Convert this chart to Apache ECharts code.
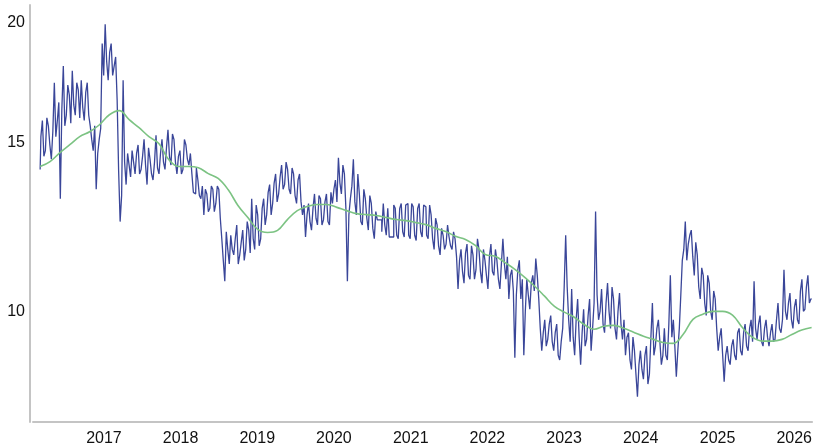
<!DOCTYPE html>
<html><head><meta charset="utf-8">
<script src="https://cdn.jsdelivr.net/npm/echarts@6/dist/echarts.min.js"></script>
<style>html,body{margin:0;padding:0;background:#fff}#c{width:815px;height:447px}</style>
</head><body><div id="c"></div>
<script>
const seriesStart = '2016-03-03';
const seriesEnd = '2026-03-25';
const axisStart = '2016-01-29';
const axisEnd = '2026-03-27';
const yearTicks = ['2017-01-01','2018-01-01','2019-01-01','2020-01-01','2021-01-01','2022-01-01','2023-01-01','2024-01-01','2025-01-01','2026-01-01'];
const yTicks = [10, 15, 20];
const yMin = 7.67, yMax = 20.84;

const price = [
14.05,15.2,15.8,14.5,14.7,15.9,15.6,14.9,14.4,15.4,17.3,15.2,15.8,16.5,13.1,16.2,18.0,15.6,16.0,17.2,
16.8,15.7,17.8,16.4,16.0,17.3,17.0,15.9,17.4,16.3,15.8,16.9,17.3,16.0,15.6,15.1,14.7,15.6,13.4,14.6,
15.1,15.5,19.0,17.6,19.9,18.2,17.4,18.6,19.0,17.6,18.0,18.4,16.6,14.0,12.4,13.2,17.4,14.3,13.55,14.6,
14.2,13.8,14.7,14.3,13.9,14.6,14.9,13.9,14.05,14.5,15.1,14.2,13.55,14.8,14.4,13.9,13.7,14.3,15.25,14.1,
13.9,14.6,15.1,14.3,14.05,14.8,15.45,14.5,14.2,15.3,15.1,14.3,13.9,14.5,14.7,13.9,14.05,15.1,14.9,14.4,
14.2,14.6,13.9,13.3,13.25,14.1,13.7,13.2,13.1,13.5,12.6,13.4,13.25,12.7,12.8,13.5,13.4,12.7,12.95,13.5,
13.4,12.5,11.9,11.3,10.75,12.1,11.6,11.2,12.0,11.6,11.45,11.9,12.3,11.2,11.45,11.8,12.15,11.3,11.6,12.4,
12.15,11.5,13.1,11.9,11.6,12.9,12.6,11.7,11.9,12.8,13.1,12.3,12.6,13.3,13.55,12.6,12.95,13.6,13.9,13.0,
13.25,13.8,14.2,13.4,13.55,14.3,14.05,13.4,13.25,14.1,13.9,13.2,12.95,13.7,13.9,13.0,12.6,12.9,11.95,12.6,
12.95,12.4,12.15,12.8,13.25,12.5,12.3,13.2,13.1,12.3,12.45,13.0,13.25,12.4,12.3,13.3,12.95,13.4,13.7,13.0,
14.45,13.6,13.25,14.2,13.9,12.8,10.75,12.6,13.1,13.5,14.4,13.0,12.6,13.9,13.25,12.4,12.3,13.4,13.1,12.5,
12.15,13.2,12.95,12.2,11.9,12.7,12.45,12.45,12.45,12.1,12.95,12.3,12.0,12.8,11.95,11.95,11.95,12.9,12.8,12.0,
11.9,12.8,12.95,12.1,11.95,12.9,12.95,12.0,11.9,12.95,12.85,12.0,11.85,12.8,12.95,12.1,11.95,12.9,12.85,12.0,
11.9,12.9,12.6,11.9,11.6,12.5,12.3,11.7,11.45,12.2,12.0,11.6,11.75,12.3,11.95,11.7,11.6,12.1,11.9,11.4,
10.55,11.3,11.6,11.0,10.7,11.5,11.75,10.9,10.8,11.7,11.45,10.8,11.05,11.9,11.6,11.0,10.7,11.6,11.3,10.9,
10.55,11.4,11.75,11.0,10.9,11.6,11.3,10.8,10.55,11.2,11.9,11.2,10.8,11.4,10.3,10.9,11.05,10.5,8.95,10.4,
11.05,11.3,10.3,10.8,9.0,10.0,10.8,10.4,10.05,10.7,10.9,10.5,11.35,10.9,10.3,9.6,9.1,9.5,9.8,9.2,
9.35,9.7,9.9,9.3,9.1,9.5,9.7,9.0,8.9,9.3,9.6,10.6,12.0,10.6,9.8,9.3,10.55,9.4,9.0,9.8,
10.3,9.4,8.8,9.5,10.05,9.2,9.35,9.9,10.3,9.1,9.6,10.2,12.7,10.4,9.8,10.0,10.55,9.7,9.5,10.2,
10.7,10.0,9.6,10.6,10.3,9.6,9.35,10.0,10.45,9.7,9.35,9.8,9.0,9.4,9.5,8.9,8.7,9.4,9.1,8.6,
8.15,8.8,9.1,8.7,8.5,9.0,9.2,8.4,8.6,9.4,10.2,9.0,9.2,9.6,9.8,9.3,8.8,9.0,9.6,9.0,
8.9,9.7,10.9,9.4,9.8,9.2,8.55,9.1,9.6,10.4,11.3,11.6,12.4,11.3,11.75,12.0,12.15,11.4,10.9,11.8,
11.45,10.6,10.3,11.1,10.9,10.2,9.9,10.9,10.7,10.0,9.8,10.5,10.3,9.6,9.1,9.4,9.6,9.0,8.45,9.0,
9.2,8.9,8.8,9.2,9.35,9.0,8.9,9.5,9.6,9.1,9.0,9.5,9.7,9.2,9.1,9.6,9.8,9.3,10.75,9.6,
9.35,9.7,9.9,9.3,9.2,9.6,9.8,9.4,9.2,9.5,9.7,9.3,9.35,9.8,10.2,9.6,9.5,9.8,11.05,10.0,
9.8,10.2,10.45,9.8,9.6,10.1,10.3,9.8,9.7,10.5,10.8,10.0,10.05,10.6,10.9,10.2,10.3
];

const trend = [
14.15,14.32,14.63,14.91,15.20,15.38,15.64,16.02,16.18,15.83,
15.53,15.20,14.95,14.39,14.15,14.15,14.11,13.91,13.75,13.39,
12.89,12.52,12.17,12.08,12.14,12.46,12.73,12.86,12.92,12.92,
12.83,12.73,12.64,12.61,12.58,12.52,12.46,12.43,12.37,12.31,
12.20,12.11,11.97,11.88,11.71,11.46,11.41,11.24,11.06,10.85,
10.62,10.37,10.12,9.98,9.86,9.69,9.58,9.65,9.67,9.60,
9.51,9.42,9.35,9.28,9.26,9.46,9.81,9.93,10.0,10.0,
9.91,9.62,9.40,9.31,9.31,9.35,9.46,9.56,9.62
];

function spreadDates(n) {
  const a = +new Date(seriesStart), b = +new Date(seriesEnd);
  return Array.from({length: n}, (_, i) => a + (b - a) * i / (n - 1));
}
const priceDates = spreadDates(price.length);
const trendDates = spreadDates(trend.length);

const chart = echarts.init(document.getElementById('c'), null, {renderer: 'canvas'});
chart.setOption({
  animation: false,
  backgroundColor: '#ffffff',
  grid: {left: 33, right: 0, top: 5, bottom: 24, containLabel: false},
  xAxis: {
    type: 'value',
    min: +new Date(axisStart),
    max: +new Date(axisEnd),
    axisLine: {show: true, lineStyle: {color: '#c4c4c4', width: 2}},
    axisTick: {show: false},
    splitLine: {show: false},
    axisLabel: {
      customValues: yearTicks.map(d => +new Date(d)),
      formatter: v => String(new Date(v).getUTCFullYear()),
      color: '#111111', fontSize: 16, fontFamily: 'Liberation Sans, Arial, sans-serif',
      margin: 9, hideOverlap: false
    }
  },
  yAxis: {
    type: 'log',
    min: yMin, max: yMax,
    offset: 3,
    axisLine: {show: true, lineStyle: {color: '#c4c4c4', width: 2}},
    axisTick: {show: false},
    splitLine: {show: false},
    axisLabel: {
      customValues: yTicks,
      formatter: v => String(Math.round(v)),
      color: '#111111', fontSize: 16, fontFamily: 'Liberation Sans, Arial, sans-serif',
      margin: 5
    }
  },
  series: [
    {
      type: 'line', name: 'price',
      data: price.map((v, i) => [priceDates[i], v]),
      showSymbol: false, symbol: 'none', step: 'middle',
      lineStyle: {color: '#3a4699', width: 1.3},
      itemStyle: {color: '#3a4699'}
    },
    {
      type: 'line', name: 'trend',
      data: trend.map((v, i) => [trendDates[i], v]),
      showSymbol: false, symbol: 'none', smooth: 0.4,
      lineStyle: {color: '#7cc383', width: 1.6},
      itemStyle: {color: '#7cc383'}
    }
  ]
});
</script>
</body></html>
